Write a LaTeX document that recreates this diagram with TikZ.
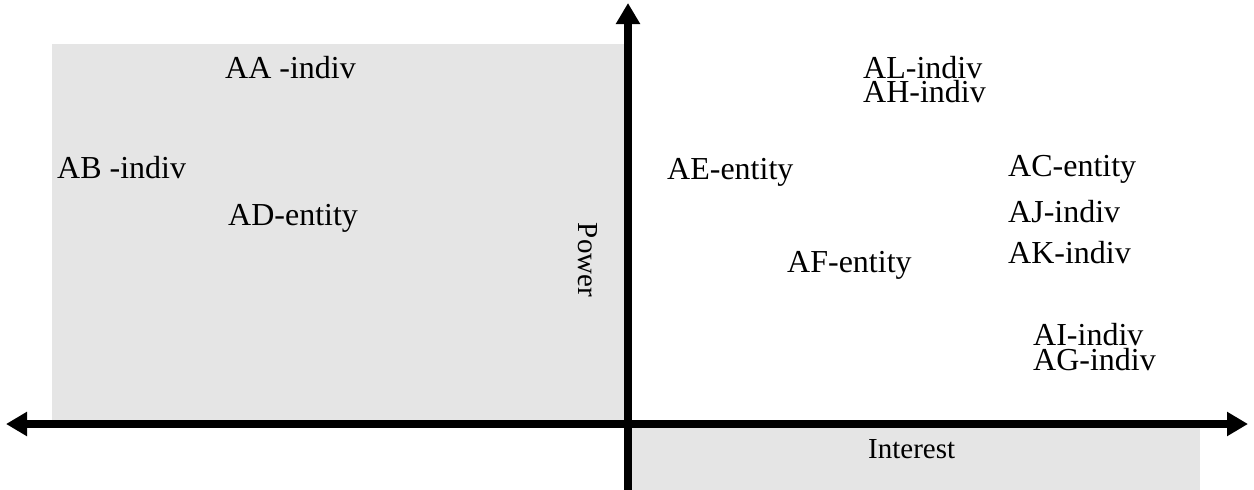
\documentclass[tikz,border=0pt]{standalone}
\usepackage{fontspec}
\setmainfont{Liberation Serif}
\usetikzlibrary{arrows.meta}

\begin{document}
\begin{tikzpicture}[x=1pt, y=-1pt,
  zone/.style={fill=black!10, draw=none},
  axis/.style={line width=8pt, black},
  tip/.tip={Triangle[length=21pt, width=23pt]},
  party/.style={anchor=base west, inner sep=0pt, font=\fontsize{32}{36}\selectfont},
  axlbl/.style={inner sep=0pt, font=\fontsize{29}{32}\selectfont}]
\useasboundingbox (0,0) rectangle (1254,490);
% shaded quadrants
\fill[zone] (52,44) rectangle (626,424);
\fill[zone] (628,424) rectangle (1200,490);
% axes
\coordinate (west) at (6,424);
\coordinate (east) at (1248,424);
\coordinate (south) at (628,490);
\coordinate (north) at (628,3);
\draw[axis, -tip] (south) -- (north);
\draw[axis, tip-tip] (west) -- (east);
\node[axlbl, rotate=-90] (power) at (588,260) {Power};
\node[axlbl, anchor=base west] (interest) at (868,458) {Interest};
% stakeholders
\node[party] (aa) at (225,78) {AA -indiv};
\node[party] (ab) at (57,178) {AB -indiv};
\node[party] (ad) at (228,225) {AD-entity};
\node[party] (ae) at (667,179) {AE-entity};
\node[party] (af) at (787,272) {AF-entity};
\node[party] (al) at (863,78) {AL-indiv};
\node[party] (ah) at (863,102) {AH-indiv};
\node[party] (ac) at (1008,176) {AC-entity};
\node[party] (aj) at (1008,222) {AJ-indiv};
\node[party] (ak) at (1008,263) {AK-indiv};
\node[party] (ai) at (1033,345) {AI-indiv};
\node[party] (ag) at (1033,370) {AG-indiv};
\end{tikzpicture}
\end{document}
